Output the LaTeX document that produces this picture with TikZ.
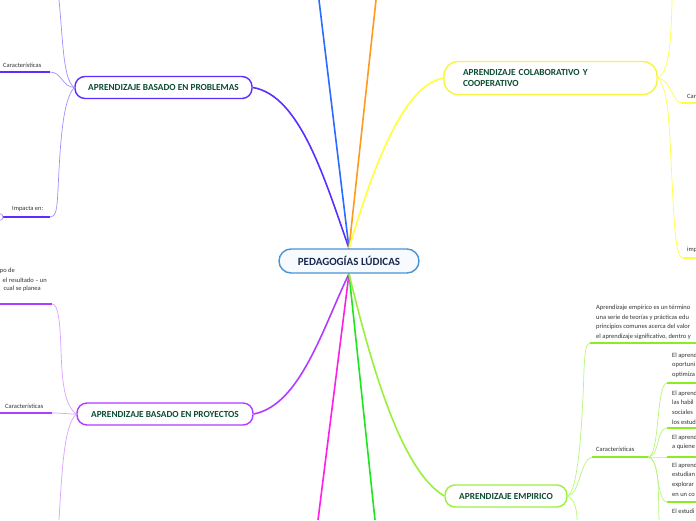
\documentclass[tikz,border=0pt]{standalone}
\usepackage{fontspec}
\setmainfont{Carlito}
\usetikzlibrary{backgrounds}
\definecolor{cabp}{HTML}{5B2EFF}
\definecolor{cabpthin}{HTML}{A08FFF}
\definecolor{cblue}{HTML}{2B6BFF}
\definecolor{corange}{HTML}{FF9A1F}
\definecolor{cyel}{HTML}{FFFF3A}
\definecolor{cyelb}{HTML}{F5F542}
\definecolor{cvio}{HTML}{B03CFF}
\definecolor{cviothin}{HTML}{D9A0FF}
\definecolor{cmag}{HTML}{FF1EE6}
\definecolor{cgreen}{HTML}{1EE61E}
\definecolor{clg}{HTML}{99F03C}
\definecolor{clgthin}{HTML}{B8F57A}
\definecolor{clgu}{HTML}{88EE22}
\definecolor{ccen}{HTML}{4A94D4}
\definecolor{ccenfill}{HTML}{F7FBFF}
\definecolor{ccentext}{HTML}{17294F}
\definecolor{ctext}{HTML}{0E4D33}
\definecolor{csmall}{HTML}{333333}
\tikzset{
  topic/.style={draw, rounded corners=10pt, line width=1.4pt, fill=white, text=ctext,
    font=\bfseries\fontsize{9.3}{11}\selectfont, inner sep=0pt, align=center},
  small/.style={inner sep=0pt, text=csmall, font=\fontsize{6.5}{9.6}\selectfont, align=left},
  mainline/.style={line width=1.6pt},
  thinline/.style={line width=0.7pt},
  uline/.style={line width=2pt},
}
\begin{document}
\begin{tikzpicture}[x=1pt,y=-1pt]
\useasboundingbox (0,0) rectangle (696,520);
\clip (0,0) rectangle (696,520);

% main topics
\node[topic, draw=ccen, fill=ccenfill, text=ccentext, font=\bfseries\fontsize{11}{12}\selectfont,
  minimum width=140pt, minimum height=24pt, rounded corners=12pt] (cen) at (349,261) {PEDAGOGÍAS LÚDICAS};
\node[topic, draw=cabp, minimum width=177pt, minimum height=22pt] (abp) at (163.5,87.5) {APRENDIZAJE BASADO EN PROBLEMAS};
\node[topic, draw=cvio, minimum width=176pt, minimum height=22pt] (pro) at (165,414) {APRENDIZAJE BASADO EN PROYECTOS};
\node[topic, draw=cyelb, align=left, text width=175pt, inner xsep=19pt, minimum height=33pt, rounded corners=14pt] (col) at (550.5,78) {APRENDIZAJE COLABORATIVO Y\\COOPERATIVO};
\node[topic, draw=clg, minimum width=122pt, minimum height=22pt] (emp) at (506,496) {APRENDIZAJE EMPIRICO};

\coordinate (blueEnd) at (319,0);
\coordinate (orangeEnd) at (376,0);
\coordinate (magEnd) at (318,520);
\coordinate (greenEnd) at (375,520);

\begin{scope}[on background layer]
\draw[mainline, cabp] (cen.north) .. controls (325,180) and (300,95) .. (abp.east);
\draw[mainline, cblue] (cen.north) -- (blueEnd);
\draw[mainline, corange] (cen.north) -- (orangeEnd);
\draw[mainline, cyel] (cen.north) .. controls (375,160) and (405,85) .. (col.west);
\draw[mainline, cvio] (cen.south) .. controls (322,330) and (300,405) .. (pro.east);
\draw[mainline, cmag] (cen.south) -- (magEnd);
\draw[mainline, cgreen] (cen.south) -- (greenEnd);
\draw[mainline, clg] (cen.south) .. controls (370,360) and (400,470) .. (emp.west);
\end{scope}

% ---- ABP left side
\coordinate (abpUp) at (59,0);
\draw[thinline, cabpthin] (abp.west) .. controls (63,80) and (63,40) .. (abpUp);
\node[small, anchor=west] (abpCar) at (3,65) {Características};
\coordinate (abpCarL) at (0,72);
\coordinate (abpCarR) at (50,72);
\draw[uline, cabp] (abpCarL) -- (abpCarR);
\draw[thinline, cabpthin] (abpCarR) .. controls (62,72) and (62,87) .. (abp.west);
\node[small, anchor=west] (abpImp) at (12,209) {Impacta en:};
\coordinate (abpImpR) at (50,217);
\draw[uline, cabp] (0,217) -- (abpImpR);
\node[circle, draw=cabpthin, thinline, minimum size=7pt, inner sep=0pt, fill=white] (abpKnob) at (-0.5,217) {};
\draw[thinline, cabpthin] (abp.west) .. controls (62,100) and (60,150) .. (58,190) .. controls (57,210) and (56,217) .. (abpImpR);

% ---- Proyectos left side
\node[small, anchor=east] (proT1) at (15,271) {po de};
\node[small, anchor=east] (proT2) at (47,280) {el resultado – un};
\node[small, anchor=east] (proT3) at (41,289) {cual se planea};
\coordinate (proUpL) at (0,304);
\coordinate (proUpR) at (52,304);
\draw[uline, cvio] (proUpL) -- (proUpR);
\draw[thinline, cviothin] (pro.west) .. controls (64,405) and (62,380) .. (61,350) .. controls (60,320) and (58,304) .. (proUpR);
\node[small, anchor=west] (proCar) at (5,406) {Características};
\coordinate (proCarL) at (0,413);
\coordinate (proCarR) at (52,413);
\draw[uline, cvio] (proCarL) -- (proCarR);
\draw[thinline, cviothin] (proCarR) .. controls (64,413) and (66,414) .. (pro.west);
\coordinate (proDown) at (59,520);
\draw[thinline, cviothin] (pro.west) .. controls (64,425) and (62,470) .. (proDown);

% ---- Colaborativo right side
\coordinate (colUp) at (672,0);
\draw[thinline, cyel] (col.east) .. controls (668,72) and (671,50) .. (colUp);
\node[small, anchor=west] (colCar) at (687,96) {Car};
\coordinate (colCarL) at (682,103);
\coordinate (colCarR) at (696,103);
\draw[uline, cyel] (colCarL) -- (colCarR);
\draw[thinline, cyel] (col.east) .. controls (672,80) and (672,103) .. (colCarL);
\node[small, anchor=west] (colImp) at (687,250) {imp};
\coordinate (colImpL) at (683,258);
\coordinate (colImpR) at (696,258);
\draw[uline, cyel] (colImpL) -- (colImpR);
\draw[thinline, cyel] (col.east) .. controls (668,88) and (669,120) .. (671,160) .. controls (674,220) and (675,258) .. (colImpL);

% ---- Empirico right side
\node[small, anchor=north west] (empDesc) at (596,305) {Aprendizaje empírico es un término\\una serie de teorías y prácticas edu\\principios comunes acerca del valor\\el aprendizaje significativo, dentro y};
\coordinate (empDescL) at (590,343);
\coordinate (empDescR) at (696,343);
\draw[uline, clgu] (empDescL) -- (empDescR);
\draw[thinline, clgthin] (emp.east) .. controls (580,490) and (583,400) .. (584,370) .. controls (585,350) and (586,343) .. (empDescL);
\node[small, anchor=west] (empCar) at (596,449) {Características};
\coordinate (empCarL) at (592,457);
\coordinate (empCarR) at (648,457);
\draw[uline, clgu] (empCarL) -- (empCarR);
\draw[thinline, clgthin] (emp.east) .. controls (580,494) and (580,460) .. (empCarL);
\coordinate (empDown) at (577,520);
\draw[thinline, clgthin] (emp.east) .. controls (575,500) and (577,510) .. (empDown);

\node[small, anchor=north west] (it1) at (672,352.5) {El aprend\\oportuni\\optimiza};
\node[small, anchor=north west] (it2) at (672,390.5) {El aprend\\las habil\\sociales\\los estud};
\node[small, anchor=north west] (it3) at (672,434.5) {El aprend\\a quiene};
\node[small, anchor=north west] (it4) at (672,462.5) {El aprend\\estudian\\explorar\\en un co};
\node[small, anchor=north west] (it5) at (672,508.5) {El estudi};
\foreach \n/\y in {a/383, b/428, c/457, d/502}{
  \coordinate (u\n L) at (667,\y);
  \coordinate (u\n R) at (696,\y);
  \draw[uline, clgu] (u\n L) -- (u\n R);
  \draw[thinline, clgthin] (empCarR) .. controls (660,457) and (656,\y) .. (u\n L);
}
\coordinate (itDown) at (659,520);
\draw[thinline, clgthin] (empCarR) .. controls (660,460) and (658,490) .. (itDown);
\end{tikzpicture}
\end{document}
